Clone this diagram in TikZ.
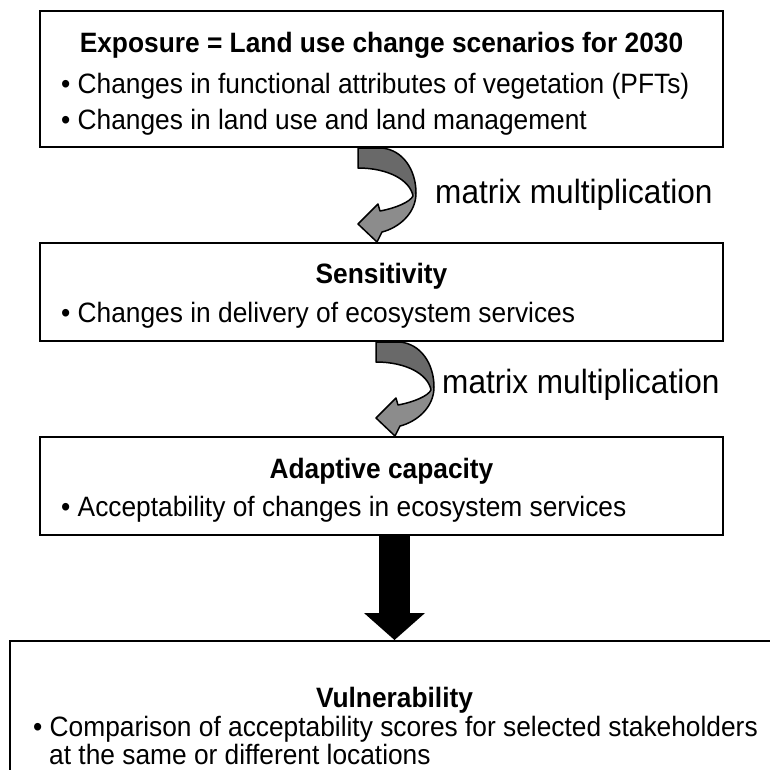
\documentclass[tikz,border=0pt]{standalone}
\usepackage{fontspec}
\setmainfont{Liberation Sans}[FakeStretch=0.94]
\usetikzlibrary{calc}

\definecolor{turndark}{RGB}{105,105,105}
\definecolor{turnlight}{RGB}{140,140,140}

% grey turning arrow between two boxes, drawn from its top left corner
\newcommand{\turnarrow}{%
  \fill[turndark] (0,0) -- (24,0) .. controls (45,2) and (58,22) .. (58,45)
    -- (55,48) .. controls (52,32) and (30,20) .. (0,20) -- cycle;
  \fill[turnlight] (58,45) .. controls (58,66) and (40,80) .. (24,84)
    -- (19,94) -- (0,76) -- (20,56) -- (22,63)
    .. controls (38,60) and (52,54) .. (55,48) -- cycle;
  \draw[turnline] (0,0) -- (24,0) .. controls (45,2) and (58,22) .. (58,45)
    .. controls (58,66) and (40,80) .. (24,84) -- (19,94) -- (0,76)
    -- (20,56) -- (22,63) .. controls (38,60) and (52,54) .. (55,48)
    .. controls (52,32) and (30,20) .. (0,20) -- cycle;}

\begin{document}
\begin{tikzpicture}[x=1pt,y=-1pt,
    every node/.style={font=\fontsize{28}{32}\selectfont, inner sep=0pt},
    box/.style={draw, line width=2pt, minimum width=683pt},
    head/.style={font=\fontsize{28}{32}\selectfont\bfseries, anchor=base},
    item/.style={anchor=base west},
    mult/.style={font=\fontsize{33.6}{38}\selectfont, anchor=base west},
    turnline/.style={draw=black, line width=1.5pt, line join=round}]
  \useasboundingbox (0,0) rectangle (770,769);
  % exposure
  \node[box, minimum height=136pt] (expo) at (381.5,79) {};
  \node[head] (expot) at (381.5,52) {Exposure = Land use change scenarios for 2030};
  \node[item] (expoa) at (61,93) {• Changes in functional attributes of vegetation (PFTs)};
  \node[item] (expob) at (61,129) {• Changes in land use and land management};
  % sensitivity
  \node[box, minimum height=98pt] (sens) at (381.5,292) {};
  \node[head] (senst) at (381.5,283) {Sensitivity};
  \node[item] (sensa) at (61,322) {• Changes in delivery of ecosystem services};
  % adaptive capacity
  \node[box, minimum height=98pt] (adapt) at (381.5,486) {};
  \node[head] (adaptt) at (381.5,478) {Adaptive capacity};
  \node[item] (adapta) at (61,516) {• Acceptability of changes in ecosystem services};
  % vulnerability, runs off the page
  \node[box, minimum width=769pt, minimum height=160pt] (vuln) at (394.5,721) {};
  \node[head] (vulnt) at (394.5,707) {Vulnerability};
  \node[item, align=left, font=\fontsize{28}{25}\selectfont] (vulna) at (33,764)
    {• Comparison of acceptability scores for selected stakeholders\\
     \hspace*{16pt}at the same or different locations};
  % matrix steps
  \begin{scope}[shift={([xshift=-23.5pt]expo.south)}]
    \turnarrow
  \end{scope}
  \node[mult] (multa) at (435,203) {matrix multiplication};
  \begin{scope}[shift={([xshift=-5.5pt]sens.south)}]
    \turnarrow
  \end{scope}
  \node[mult] (multb) at (442,393) {matrix multiplication};
  % block arrow
  \draw[line width=31pt] (adapt.south -| vuln.north) -- ([yshift=26pt]vuln.north);
  \fill (vuln.north) -- ++(-30.5,-27) -- ++(61,0) -- cycle;
\end{tikzpicture}
\end{document}
